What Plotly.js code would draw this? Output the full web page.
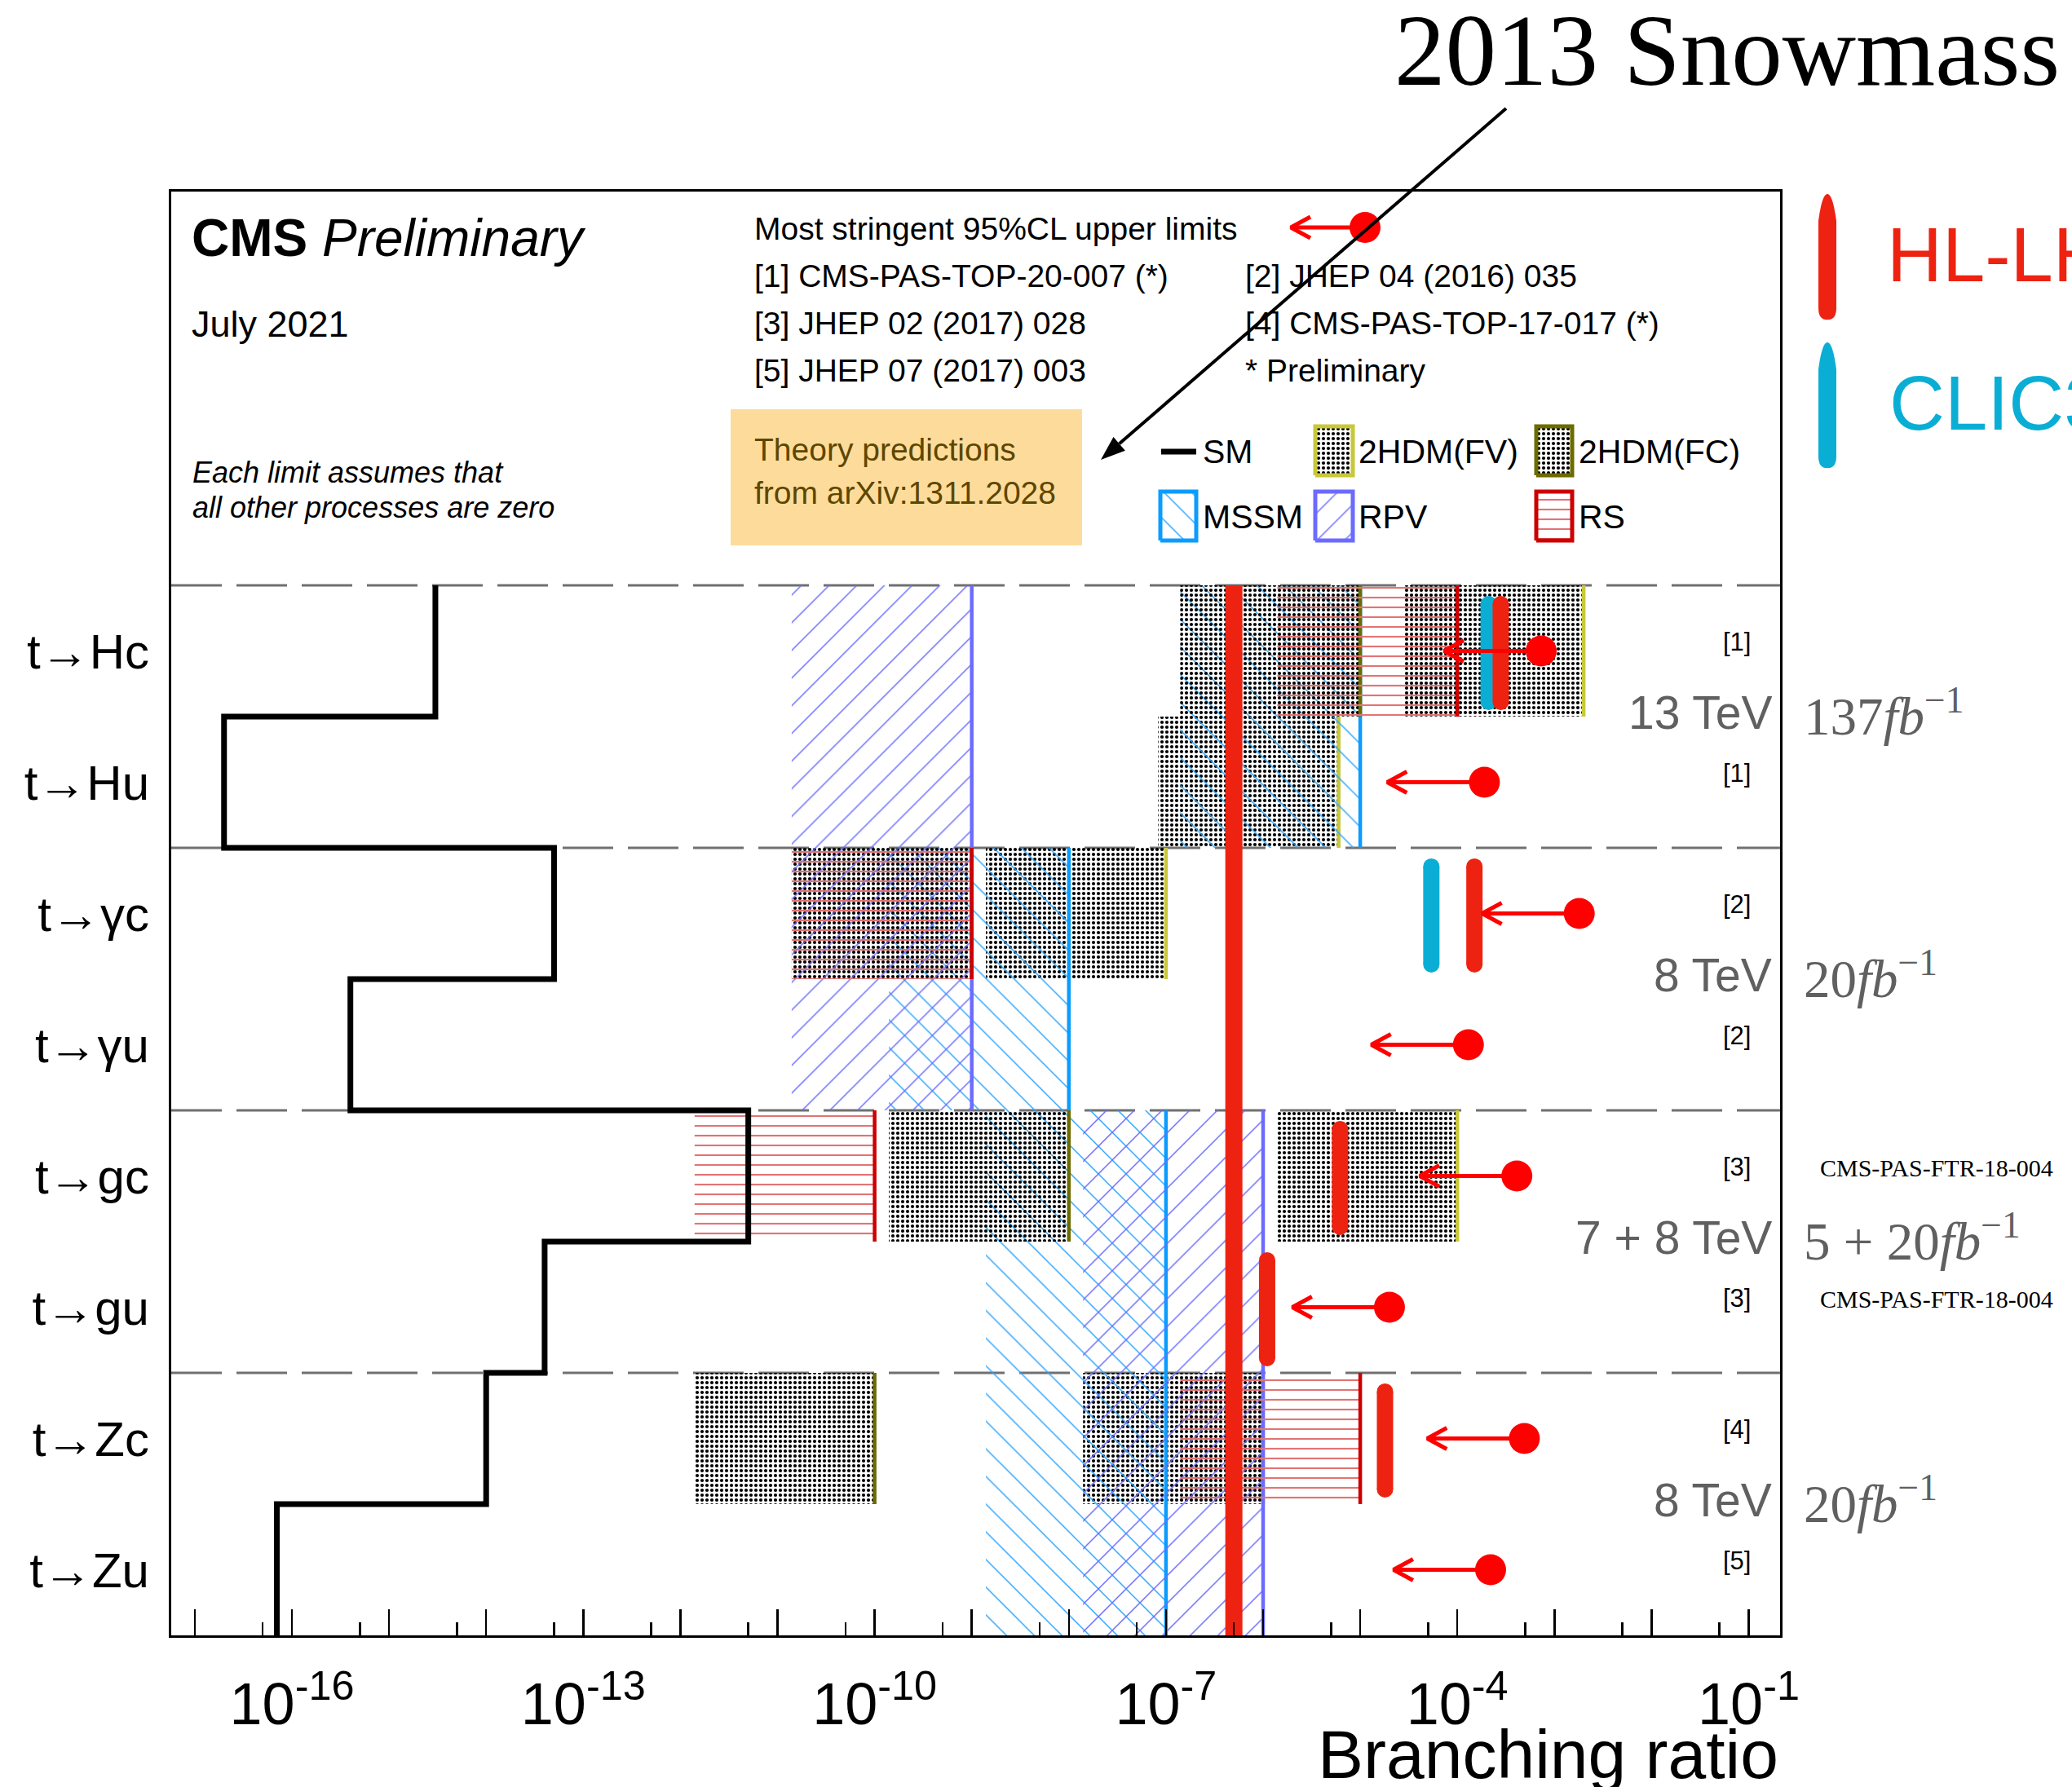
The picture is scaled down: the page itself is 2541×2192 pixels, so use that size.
<!DOCTYPE html>
<html><head><meta charset="utf-8">
<script src="https://cdn.plot.ly/plotly-3.0.1.min.js"></script>
<style>html,body{margin:0;padding:0;background:#fff}</style>
</head><body><div id="chart" style="width:2541px;height:2192px"></div>
<script>
// ---------------- data ----------------
const processes = ['t→Hc', 't→Hu', 't→γc', 't→γu', 't→gc', 't→gu', 't→Zc', 't→Zu'];
const smBR   = [3e-15, 2e-17, 5e-14, 4e-16, 5e-12, 4e-14, 1e-14, 7e-17];
const fvHi   = [2e-3, 6e-6, 1e-7, null, 1e-4, null, 1e-6, null];
const fvLo   = [2.8e-5, 8.3e-8, 1.4e-9, null, 1.4e-6, null, 1.4e-8, null];
const fcHi   = [1e-5, null, 1e-9, null, 1e-8, null, 1e-10, null];
const fcLo   = [1.4e-7, null, 1.4e-11, null, 1.4e-10, null, 1.4e-12, null];
const mssmHi = [1e-5, 1e-5, 1e-8, 1e-8, 1e-7, 1e-7, 1e-7, 1e-7];
const mssmLo = [1.4e-7, 1.4e-7, 1.4e-10, 1.4e-10, 1.4e-9, 1.4e-9, 1.4e-9, 1.4e-9];
const rpvHi  = [1e-9, 1e-9, 1e-9, 1e-9, 1e-6, 1e-6, 1e-6, 1e-6];
const rpvLo  = [1.4e-11, 1.4e-11, 1.4e-11, 1.4e-11, 1.4e-8, 1.4e-8, 1.4e-8, 1.4e-8];
const rsHi   = [1e-4, null, 1e-9, null, 1e-10, null, 1e-5, null];
const rsLo   = [1.4e-6, null, 1.4e-11, null, 1.4e-12, null, 1.4e-7, null];
const cmsLimit = [7.3e-4, 1.9e-4, 1.8e-3, 1.3e-4, 4.1e-4, 2.0e-5, 4.9e-4, 2.2e-4];
const limitRef = ['[1]', '[1]', '[2]', '[2]', '[3]', '[3]', '[4]', '[5]'];
const hllhcRow = [0, 2, 4, 5, 6];
const hllhcBR  = [2.8e-4, 1.5e-4, 6.2e-6, 1.1e-6, 1.8e-5];
const clicRow  = [0, 2];
const clicBR   = [2.1e-4, 5.4e-5];
const snowmassBand = 5e-7;
const energyText = ['13 TeV', '8 TeV', '7 + 8 TeV', '8 TeV'];
const lumiText = ['137<i>fb</i><sup>−1</sup>', '20<i>fb</i><sup>−1</sup>', '5 + 20<i>fb</i><sup>−1</sup>', '20<i>fb</i><sup>−1</sup>'];
const labelExp = [-16, -13, -10, -7, -4, -1];
const plainExp = [-17, -15, -14, -12, -11, -9, -8, -6, -5, -3, -2];
const minorExp = [-17,-16,-15,-14,-13,-12,-11,-10,-9,-8,-7,-6,-5,-4,-3,-2];
const refLines = ['[1] CMS-PAS-TOP-20-007 (*)', '[3] JHEP 02 (2017) 028', '[5] JHEP 07 (2017) 003'];
const refLines2 = ['[2] JHEP 04 (2016) 035', '[4] CMS-PAS-TOP-17-017 (*)', '* Preliminary'];

// ---------------- geometry / style ----------------
const W = 2541, H = 2192, PL = 210, PR = 2183, PT = 235, PB = 2006;
const DEC = 119.1, X16 = 358;            // pixel of 1e-16, pixels per decade
const NROW = 8, YTOP = 11;
const ROWH = (PB - PT) / YTOP;
const xr = [-16 - (X16 - PL) / DEC, -16 + (PR - X16) / DEC];
const px2log = p => -16 + (p - X16) / DEC;
const px2x = p => Math.pow(10, px2log(p));
const py2y = p => (PB - p) / ROWH;
const paperX = p => (p - PL) / (PR - PL);
const paperY = p => (PB - p) / (PB - PT);
const SANS = 'Liberation Sans, Arial, sans-serif';
const SERIF = 'Liberation Serif, Times New Roman, serif';
const ARROW_LEN = 1.0;                    // arrow length in decades
const HEAD_X = 24 / DEC, HEAD_Y = 13 / ROWH;
const C = {fv: '#c8c83a', fc: '#6b6b00', mssm: '#0a9cff', rpv: '#6b6bff', rs: '#cc0000',
           rsHatch: '#e27474', red: '#ff0000', hl: '#ee2211', clic: '#0aaed4', gray: '#606060'};

const rowTop = i => NROW - i, rowBot = i => NROW - 1 - i, rowMid = i => NROW - 0.5 - i;

function boxTrace(lo, hi, pat) {
  const x = [], y = [];
  hi.forEach((h, i) => {
    if (h == null) return;
    x.push(lo[i], h, h, lo[i], lo[i], null);
    y.push(rowBot(i), rowBot(i), rowTop(i), rowTop(i), rowBot(i), null);
  });
  return {x, y, type: 'scatter', mode: 'lines', line: {width: 0}, fill: 'toself',
          fillcolor: 'rgba(0,0,0,0)', fillpattern: pat, hoverinfo: 'skip', showlegend: false};
}
function limitLine(hi, color) {
  const x = [], y = [];
  hi.forEach((h, i) => { if (h == null) return; x.push(h, h, null); y.push(rowBot(i), rowTop(i), null); });
  return {x, y, type: 'scatter', mode: 'lines', line: {color, width: 4.5}, hoverinfo: 'skip', showlegend: false};
}
const PAT = {
  fv:   {shape: '.', fgcolor: '#000', size: 6, solidity: 0.38, fillmode: 'replace'},
  fc:   {shape: '.', fgcolor: '#000', size: 6, solidity: 0.38, fillmode: 'replace'},
  mssm: {shape: '\\', fgcolor: '#2aa4ff', size: 24, solidity: 0.06, fillmode: 'replace'},
  rpv:  {shape: '/', fgcolor: '#6b6bff', size: 24, solidity: 0.06, fillmode: 'replace'},
  rs:   {shape: '-', fgcolor: C.rsHatch, size: 12, solidity: 0.18, fillmode: 'replace'}
};

const traces = [];
// dummy trace carrying the overlay axis for the unlabelled decade ticks
traces.push({x: [], y: [], type: 'scatter', mode: 'markers', xaxis: 'x2', yaxis: 'y', hoverinfo: 'skip', showlegend: false});
traces.push(boxTrace(fvLo, fvHi, PAT.fv));
traces.push(limitLine(fvHi, C.fv));
traces.push(boxTrace(mssmLo, mssmHi, PAT.mssm));
traces.push(limitLine(mssmHi, C.mssm));
traces.push(boxTrace(fcLo, fcHi, PAT.fc));
traces.push(limitLine(fcHi, C.fc));
traces.push(boxTrace(rpvLo, rpvHi, PAT.rpv));
traces.push(limitLine(rpvHi, C.rpv));
traces.push(boxTrace(rsLo, rsHi, PAT.rs));
traces.push(limitLine(rsHi, C.rs));

// SM step line
const smX = [], smY = [];
smBR.forEach((v, i) => { smX.push(v, v); smY.push(rowTop(i), rowBot(i)); });
traces.push({x: smX, y: smY, type: 'scatter', mode: 'lines', line: {color: '#000', width: 7}, hoverinfo: 'skip', showlegend: false});

// Snowmass red band across all rows
traces.push({x: [snowmassBand, snowmassBand], y: [0, NROW], type: 'scatter', mode: 'lines',
             line: {color: C.hl, width: 21}, hoverinfo: 'skip', showlegend: false});

// brush strokes (HL-LHC / CLIC projections)
const SW = 20, r = (SW / 2) / ROWH;
function strokes(rows, vals, color) {
  rows.forEach((row, k) => {
    traces.push({x: [vals[k], vals[k]], y: [rowBot(row) + 0.05 + r, rowTop(row) - 0.08 - r],
      type: 'scatter', mode: 'lines+markers', line: {color, width: SW},
      marker: {color, size: SW}, hoverinfo: 'skip', showlegend: false});
  });
}
strokes(clicRow, clicBR, C.clic);
strokes(hllhcRow, hllhcBR, C.hl);

// CMS limit arrows (shaft + open head) and dots
function arrowTrace(dotLog, tipLog, yc) {
  return {x: [tipLog, dotLog, null, tipLog + HEAD_X, tipLog, tipLog + HEAD_X].map(v => v == null ? null : Math.pow(10, v)),
          y: [yc, yc, null, yc + HEAD_Y, yc, yc - HEAD_Y],
          type: 'scatter', mode: 'lines', line: {color: C.red, width: 5}, hoverinfo: 'skip', showlegend: false};
}
cmsLimit.forEach((v, i) => traces.push(arrowTrace(Math.log10(v), Math.log10(v) - ARROW_LEN, rowMid(i))));
traces.push({x: cmsLimit, y: cmsLimit.map((v, i) => rowMid(i)), type: 'scatter', mode: 'markers',
             marker: {color: C.red, size: 38}, hoverinfo: 'skip', showlegend: false});

// ---- header legend (decorations inside plot area) ----
function swatch(x0, x1, y0, y1, color, pat) {
  const xa = [px2x(x0), px2x(x1), px2x(x1), px2x(x0), px2x(x0)];
  const ya = [py2y(y1), py2y(y1), py2y(y0), py2y(y0), py2y(y1)];
  traces.push({x: xa, y: ya, type: 'scatter', mode: 'lines', line: {color, width: 5},
    fill: 'toself', fillcolor: 'rgba(0,0,0,0)', fillpattern: pat, hoverinfo: 'skip', showlegend: false});
}
swatch(1613, 1659, 523, 583, C.fv, PAT.fv);
swatch(1884, 1928, 523, 583, C.fc, PAT.fc);
swatch(1423, 1467, 603, 663, C.mssm, PAT.mssm);
swatch(1613, 1659, 603, 663, C.rpv, PAT.rpv);
swatch(1884, 1928, 603, 663, C.rs, PAT.rs);
traces.push({x: [px2x(1424), px2x(1467)], y: [py2y(554), py2y(554)], type: 'scatter', mode: 'lines',
             line: {color: '#000', width: 7}, hoverinfo: 'skip', showlegend: false});
traces.push(arrowTrace(px2log(1674), px2log(1583), py2y(279)));
traces.push({x: [px2x(1674)], y: [py2y(279)], type: 'scatter', mode: 'markers',
             marker: {color: C.red, size: 38}, hoverinfo: 'skip', showlegend: false});

// ---------------- annotations ----------------
const ann = [];
function txt(text, xp, yp, size, opt) {
  ann.push(Object.assign({text, x: paperX(xp), y: paperY(yp), xref: 'paper', yref: 'paper',
    showarrow: false, xanchor: 'left', yanchor: 'middle', font: {family: SANS, size, color: '#000'}}, opt || {}));
}
txt('<b>CMS</b>', 233, 292, 64);
txt('<i>Preliminary</i>', 247, 292, 64, {x: paperX(247) + 0.07});
txt('July 2021', 233, 397, 45);
txt('<i>Each limit assumes that</i>', 234, 579, 36);
txt('<i>all other processes are zero</i>', 234, 622, 36);
txt('Most stringent 95%CL upper limits', 923, 280, 39);
refLines.forEach((t, k) => txt(t, 923, 338 + 58 * k, 39));
refLines2.forEach((t, k) => txt(t, 1525, 338 + 58 * k, 39));
txt('Theory predictions', 923, 551, 39, {font: {family: SANS, size: 39, color: '#5e4600'}});
txt('from arXiv:1311.2028', 923, 604, 39, {font: {family: SANS, size: 39, color: '#5e4600'}});
txt('SM', 1473, 554, 41);
txt('2HDM(FV)', 1664, 554, 41);
txt('2HDM(FC)', 1934, 554, 41);
txt('MSSM', 1473, 634, 41);
txt('RPV', 1664, 634, 41);
txt('RS', 1934, 634, 41);

// right-hand labels
limitRef.forEach((t, i) => ann.push({text: t, x: paperX(2130), y: rowMid(i) + 0.07, xref: 'paper', yref: 'y',
  showarrow: false, xanchor: 'center', yanchor: 'middle', font: {family: SANS, size: 31, color: '#000'}}));
energyText.forEach((t, k) => {
  const yb = rowBot(2 * k) + 0.03;
  ann.push({text: t, x: paperX(2175), y: yb, xref: 'paper', yref: 'y', showarrow: false,
    xanchor: 'right', yanchor: 'middle', font: {family: SANS, size: 57, color: C.gray}});
  ann.push({text: lumiText[k], x: paperX(2210), y: yb, xref: 'paper', yref: 'y', showarrow: false,
    xanchor: 'left', yanchor: 'middle', font: {family: SERIF, size: 65, color: C.gray}});
});
[4, 5].forEach(i => ann.push({text: 'CMS-PAS-FTR-18-004', x: paperX(2230), y: rowMid(i) + 0.06, xref: 'paper', yref: 'y',
  showarrow: false, xanchor: 'left', yanchor: 'middle', font: {family: SERIF, size: 30, color: '#000'}}));

// title and projection legend
txt('2013 Snowmass', 2118, 62, 125, {xanchor: 'center', font: {family: SERIF, size: 125, color: '#000'}});
txt('HL-LHC', 2312, 313, 94, {font: {family: SANS, size: 94, color: C.hl}});
txt('CLIC380', 2315, 494, 94, {font: {family: SANS, size: 94, color: C.clic}});
txt('Branching ratio', PR, 2103, 84, {xanchor: 'right', yanchor: 'top'});

// ---------------- shapes ----------------
const shapes = [];
shapes.push({type: 'rect', xref: 'paper', yref: 'paper', x0: paperX(896), x1: paperX(1327),
  y0: paperY(669), y1: paperY(502), fillcolor: '#fddc9b', line: {width: 0}, layer: 'below'});
[8, 6, 4, 2].forEach(y => shapes.push({type: 'line', xref: 'paper', yref: 'y', x0: 0, x1: 1, y0: y, y1: y,
  line: {color: '#707070', width: 3, dash: '62px,18px'}, layer: 'below'}));
const P = (x, y) => paperX(x) + ',' + paperY(y);
function capsule(cx, y0, y1, color) {
  const w = 11;
  const path = 'M' + P(cx - w, y0 + 3 * w) + ' L' + P(cx - w, y1 - w) +
    ' Q' + P(cx - w, y1 + 0.3 * w) + ' ' + P(cx, y1 + 0.3 * w) +
    ' Q' + P(cx + w, y1 + 0.3 * w) + ' ' + P(cx + w, y1 - w) +
    ' L' + P(cx + w, y0 + 3 * w) + ' Q' + P(cx + 0.6 * w, y0) + ' ' + P(cx, y0) +
    ' Q' + P(cx - 0.6 * w, y0) + ' ' + P(cx - w, y0 + 3 * w) + ' Z';
  shapes.push({type: 'path', xref: 'paper', yref: 'paper', path, fillcolor: color, line: {width: 0}});
}
capsule(2241, 238, 389, C.hl);
capsule(2241, 420, 571, C.clic);
// black arrow from the title to the theory box
(function () {
  const tail = [1847, 133], head = [1350, 564], L = 30, hw = 11;
  const dx = head[0] - tail[0], dy = head[1] - tail[1], n = Math.hypot(dx, dy);
  const ux = dx / n, uy = dy / n, bx = head[0] - L * ux, by = head[1] - L * uy;
  shapes.push({type: 'line', xref: 'paper', yref: 'paper', x0: paperX(tail[0]), y0: paperY(tail[1]),
    x1: paperX(bx), y1: paperY(by), line: {color: '#000', width: 4}});
  shapes.push({type: 'path', xref: 'paper', yref: 'paper', fillcolor: '#000', line: {width: 0},
    path: 'M' + P(head[0], head[1]) + ' L' + P(bx + hw * uy, by - hw * ux) + ' L' + P(bx - hw * uy, by + hw * ux) + ' Z'});
})();

// ---------------- layout ----------------
const layout = {
  width: W, height: H,
  margin: {l: PL, r: W - PR, t: PT, b: H - PB, pad: 0},
  paper_bgcolor: '#fff', plot_bgcolor: '#fff', showlegend: false,
  font: {family: SANS, color: '#000'},
  xaxis: {type: 'log', range: xr, showgrid: false, zeroline: false,
    showline: true, mirror: true, linecolor: '#000', linewidth: 3,
    tickmode: 'array', tickvals: labelExp.map(e => Math.pow(10, e)),
    ticktext: labelExp.map(e => '10<sup>' + e + '</sup>'),
    ticks: 'inside', ticklen: 32, tickwidth: 2.5, tickcolor: '#000',
    minor: {tickmode: 'array', tickvals: minorExp.map(e => 5 * Math.pow(10, e)),
            ticks: 'inside', ticklen: 16, tickwidth: 2.5, tickcolor: '#000', showgrid: false},
    tickfont: {family: SANS, size: 72, color: '#000'}, ticklabelstandoff: 20},
  xaxis2: {type: 'log', range: xr, overlaying: 'x', anchor: 'y', side: 'bottom',
    showgrid: false, zeroline: false, showline: false, showticklabels: false,
    tickmode: 'array', tickvals: plainExp.map(e => Math.pow(10, e)),
    ticks: 'inside', ticklen: 32, tickwidth: 2.5, tickcolor: '#000'},
  yaxis: {range: [0, YTOP], showgrid: false, zeroline: false,
    showline: true, mirror: true, linecolor: '#000', linewidth: 3,
    tickmode: 'array', tickvals: processes.map((p, i) => rowMid(i)), ticktext: processes,
    ticks: '', tickfont: {family: SANS, size: 60, color: '#000'}, ticklabelstandoff: 12},
  annotations: ann, shapes
};
// place "Preliminary" right after "CMS" (CMS bold width ≈ 2.22 em)
layout.annotations.find(a => a.text === '<i>Preliminary</i>').x = paperX(233 + 2.222 * 64 + 18);
Plotly.newPlot('chart', traces, layout, {staticPlot: true, displayModeBar: false});
</script></body></html>
